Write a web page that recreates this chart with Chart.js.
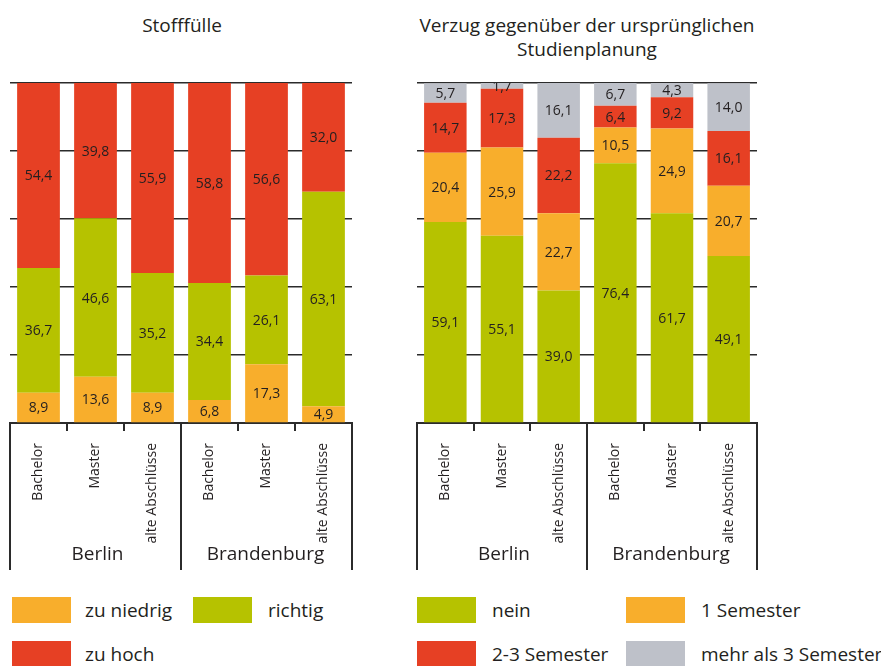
<!DOCTYPE html>
<html>
<head>
<meta charset="utf-8">
<script src="https://cdn.jsdelivr.net/npm/chart.js@4.4.1/dist/chart.umd.min.js"></script>
<style>
  body { margin: 0; background: #fff; font-family: "Open Sans", sans-serif; color: #231f20; }
  #wrap { position: relative; width: 881px; height: 666px; overflow: hidden; }
  canvas { position: absolute; top: 0; }
  .title { position: absolute; top: 13px; text-align: center; font-size: 19px; line-height: 24px; }
  .leg { position: absolute; font-size: 19px; height: 26px; line-height: 26px; white-space: nowrap; }
  .leg .box { position: absolute; left: 0; top: 0; width: 59px; height: 26px; }
  .leg .txt { position: absolute; top: 0; }
</style>
</head>
<body>
<div id="wrap">
  <div class="title" style="left:82px;width:200px;">Stofffülle</div>
  <div class="title" style="left:407px;width:360px;">Verzug gegenüber der ursprünglichen<br>Studienplanung</div>
  <canvas id="stoff" width="370" height="580" style="left:0"></canvas>
  <canvas id="verzug" width="370" height="580" style="left:400px"></canvas>
</div>
<script>
// DATEN
const categories = ["Bachelor", "Master", "alte Abschlüsse", "Bachelor", "Master", "alte Abschlüsse"];
const groups = ["Berlin", "Brandenburg"];

// Stofffülle
const zuNiedrig = [8.9, 13.6, 8.9, 6.8, 17.3, 4.9];
const richtig = [36.7, 46.6, 35.2, 34.4, 26.1, 63.1];
const zuHoch = [54.4, 39.8, 55.9, 58.8, 56.6, 32.0];

// Verzug
const nein = [59.1, 55.1, 39.0, 76.4, 61.7, 49.1];
const einSemester = [20.4, 25.9, 22.7, 10.5, 24.9, 20.7];
const zweiDreiSemester = [14.7, 17.3, 22.2, 6.4, 9.2, 16.1];
const mehrAls3 = [5.7, 1.7, 16.1, 6.7, 4.3, 14.0];

// FARBEN
const ORANGE = "#f8ae2c";
const GRUEN = "#b6c200";
const ROT = "#e64024";
const GRAU = "#bec1c9";
const LINIE = "#2b2b2b";
const FONT = "'Open Sans', sans-serif";

// PLUGIN: WERTE, TRENNLINIEN, GRUPPEN
const extras = {
  id: "extras",
  afterDatasetsDraw(chart) {
    const ctx = chart.ctx;
    const area = chart.chartArea;
    ctx.save();
    ctx.beginPath();
    ctx.rect(area.left, area.top, area.right - area.left, area.bottom - area.top);
    ctx.clip();
    ctx.font = "14px " + FONT;
    ctx.fillStyle = "#231f20";
    ctx.textAlign = "center";
    ctx.textBaseline = "middle";
    chart.data.datasets.forEach((ds, i) => {
      chart.getDatasetMeta(i).data.forEach((bar, j) => {
        const v = ds.data[j];
        ctx.fillText(v.toFixed(1).replace(".", ","), bar.x, (bar.y + bar.base) / 2 + 1);
      });
    });
    ctx.restore();
  },
  afterDraw(chart) {
    const ctx = chart.ctx;
    const area = chart.chartArea;
    const x = chart.scales.x;
    const half = (x.getPixelForValue(1) - x.getPixelForValue(0)) / 2;
    const seps = [x.getPixelForValue(0) - half, x.getPixelForValue(2) + half, x.getPixelForValue(5) + half];
    ctx.save();
    ctx.strokeStyle = LINIE;
    ctx.lineWidth = 2;
    seps.forEach((px) => {
      ctx.beginPath();
      ctx.moveTo(Math.round(px), area.bottom);
      ctx.lineTo(Math.round(px), 570);
      ctx.stroke();
    });
    ctx.font = "19px " + FONT;
    ctx.fillStyle = "#231f20";
    ctx.textAlign = "center";
    ctx.textBaseline = "middle";
    ctx.fillText(groups[0], x.getPixelForValue(1) + 2, 555);
    ctx.fillText(groups[1], x.getPixelForValue(4) - 1, 555);
    ctx.restore();
  },
};

function makeChart(id, datasets, padLeft, padRight) {
  return new Chart(document.getElementById(id), {
    type: "bar",
    data: { labels: categories, datasets: datasets },
    options: {
      responsive: false,
      animation: false,
      layout: { padding: { left: padLeft, right: padRight, top: 83, bottom: 0 } },
      datasets: { bar: { categoryPercentage: 1, barPercentage: 0.75 } },
      plugins: {
        legend: { display: false },
        tooltip: { enabled: false },
      },
      scales: {
        x: {
          stacked: true,
          afterFit: (s) => { s.height = 157; },
          border: { display: true, color: LINIE, width: 2 },
          grid: { drawOnChartArea: false, drawTicks: true, tickLength: 8, color: LINIE, lineWidth: 2, offset: true },
          ticks: {
            minRotation: 90,
            maxRotation: 90,
            padding: 12,
            color: "#231f20",
            font: { family: FONT, size: 14 },
          },
        },
        y: {
          stacked: true,
          min: 0,
          max: 100,
          afterFit: (s) => { s.width = 0; },
          border: { display: false },
          grid: { color: LINIE, lineWidth: 1.5, drawTicks: false },
          ticks: { display: false, stepSize: 20 },
        },
      },
    },
    plugins: [extras],
  });
}

makeChart("stoff", [
  { label: "zu niedrig", data: zuNiedrig, backgroundColor: ORANGE },
  { label: "richtig", data: richtig, backgroundColor: GRUEN },
  { label: "zu hoch", data: zuHoch, backgroundColor: ROT },
], 10, 18);

makeChart("verzug", [
  { label: "nein", data: nein, backgroundColor: GRUEN },
  { label: "1 Semester", data: einSemester, backgroundColor: ORANGE },
  { label: "2-3 Semester", data: zweiDreiSemester, backgroundColor: ROT },
  { label: "mehr als 3 Semester", data: mehrAls3, backgroundColor: GRAU },
], 17, 13);

// LEGENDE
const legendItems = [
  { text: "zu niedrig", color: ORANGE, x: 12, y: 597, dx: 73 },
  { text: "richtig", color: GRUEN, x: 193, y: 597, dx: 75 },
  { text: "zu hoch", color: ROT, x: 12, y: 641, dx: 73 },
  { text: "nein", color: GRUEN, x: 417, y: 597, dx: 75 },
  { text: "1 Semester", color: ORANGE, x: 626, y: 597, dx: 75 },
  { text: "2-3 Semester", color: ROT, x: 417, y: 641, dx: 75 },
  { text: "mehr als 3 Semester", color: GRAU, x: 626, y: 641, dx: 75 },
];
const wrap = document.getElementById("wrap");
legendItems.forEach((it) => {
  const d = document.createElement("div");
  d.className = "leg";
  d.style.left = it.x + "px";
  d.style.top = it.y + "px";
  d.innerHTML = '<span class="box" style="background:' + it.color + '"></span>' +
    '<span class="txt" style="left:' + it.dx + 'px">' + it.text + "</span>";
  wrap.appendChild(d);
});
</script>
</body>
</html>
